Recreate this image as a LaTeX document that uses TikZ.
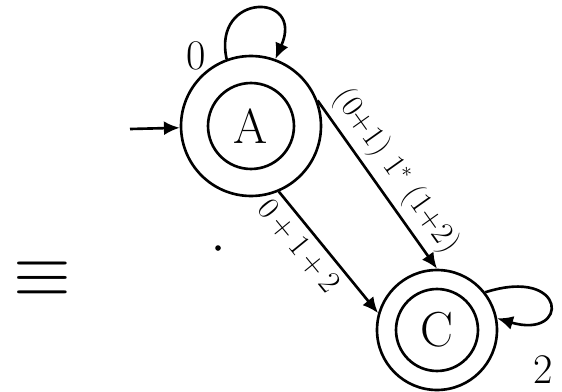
\documentclass[tikz,border=0pt]{standalone}
\usepackage{fontspec}
\usetikzlibrary{arrows.meta}

\begin{document}
\begin{tikzpicture}[
  x=0.02cm,y=-0.02cm,
  >={Latex[length=9pt,width=8pt]},line width=1.5pt,
  outerst/.style={draw,circle,inner sep=0pt},
  innerst/.style={draw,circle,inner sep=0pt,font=\fontsize{28}{30}\selectfont},
  lbl/.style={font=\fontsize{18}{20}\selectfont}
]
  \useasboundingbox (0,0) rectangle (562,392);
  \node[outerst,minimum size=2.8cm] (A) at (251,126) {};
  \node[innerst,minimum size=1.72cm] (Ain) at (A) {A};
  \node[outerst,minimum size=2.4cm] (C) at (437,330) {};
  \node[innerst,minimum size=1.64cm] (Cin) at (C) {C};
  \coordinate (start) at (130,129);
  \draw[->] (start) -- (A);
  \draw[->] (A.110) .. controls (212,-8) and (305,-8) .. (A.70);
  \node[lbl,font=\fontsize{24}{26}\selectfont] (l0) at (196,56) {0};
  \draw[->] (A.21) -- (C.north) node[lbl,sloped,midway,above] {(0+1) 1$^*$ (1+2)};
  \draw[->] (A.-67) -- (C.164) node[lbl,sloped,pos=0.35,below] {0\,+\,1\,+\,2};
  \draw[->] (C.38) .. controls (568,266) and (570,340) .. (C.11);
  \node[lbl,font=\fontsize{24}{26}\selectfont] (l2) at (543,370) {2};
  \fill (218,248) circle (1.6pt);
  \node[font=\fontsize{24}{24}\selectfont,scale=1.7] (eqv) at (42,279) {$\equiv$};
\end{tikzpicture}
\end{document}
